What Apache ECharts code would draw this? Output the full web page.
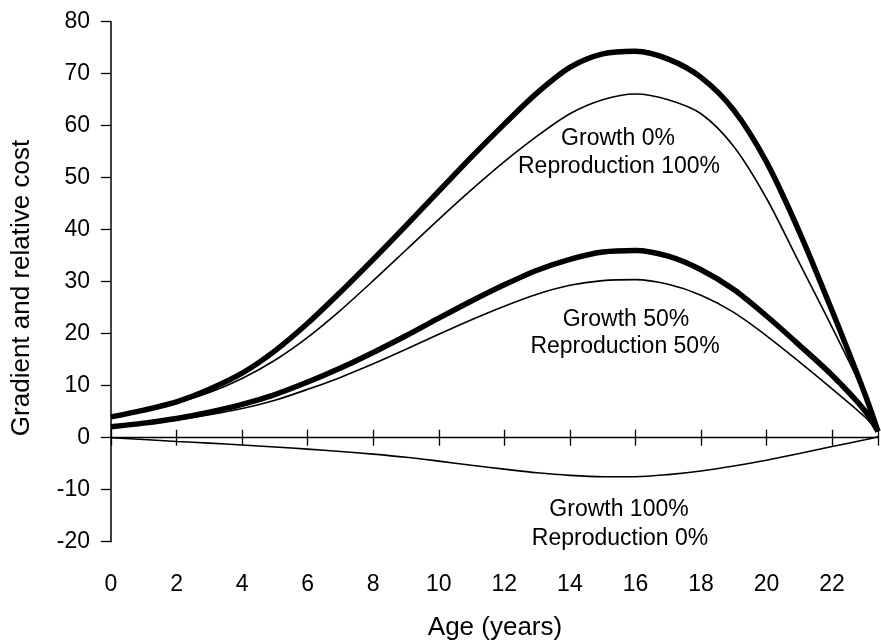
<!DOCTYPE html>
<html>
<head>
<meta charset="utf-8">
<script src="https://cdn.jsdelivr.net/npm/echarts@6/dist/echarts.min.js"></script>
<style>html,body{margin:0;padding:0;background:#fff}#c{width:881px;height:642px}</style>
</head>
<body>
<div id="c"></div>
<script>
// Age (years)
const ages = [0,1,2,3,4,5,6,7,8,9,10,11,12,13,14,15,16,17,18,19,20,21,22,23,23.4];
// Growth 0% / Reproduction 100%
const g0Thick = [4.0,5.3,6.9,9.3,12.4,16.7,22.0,28.0,34.3,40.8,47.4,54.0,60.3,66.3,71.2,73.8,74.3,72.8,69.3,63.0,53.0,39.6,24.4,8.4,1.2];
const g0Thin  = [4.0,5.2,6.7,8.7,11.4,14.9,19.3,24.5,30.2,36.1,42.0,47.7,53.1,58.0,62.3,65.0,66.1,65.0,62.3,56.0,46.0,33.6,21.2,8.2,1.2];
// Growth 50% / Reproduction 50%
const g50Thick = [2.1,2.8,3.7,4.9,6.4,8.3,10.7,13.4,16.4,19.6,23.0,26.3,29.4,32.2,34.3,35.7,36.0,34.9,32.3,28.5,23.4,17.8,12.0,5.2,1.2];
const g50Thin  = [2.0,2.6,3.4,4.4,5.6,7.2,9.3,11.6,14.2,17.0,19.9,22.7,25.3,27.6,29.3,30.2,30.4,29.5,27.4,24.1,19.6,14.6,9.4,4.0,1.2];
// Growth 100% / Reproduction 0%
const g100 = [0,-0.35,-0.72,-1.05,-1.4,-1.78,-2.2,-2.65,-3.15,-3.75,-4.5,-5.3,-6.05,-6.75,-7.25,-7.5,-7.5,-7.1,-6.4,-5.45,-4.35,-3.05,-1.7,-0.4,0.2];

const xTickStep = 2;
const yTickStep = 10;

const FONT = '"Liberation Sans", Arial, Helvetica, sans-serif';
const pair = arr => ages.map((a, i) => [a, arr[i]]);

const chart = echarts.init(document.getElementById('c'), null, {renderer: 'canvas'});

const baseX = {type: 'value', min: 0, max: 23.4, interval: xTickStep, splitLine: {show: false}};

function line(name, data, width) {
  return {
    name, type: 'line', data: pair(data), smooth: 0.3, symbol: 'none',
    xAxisIndex: 0, yAxisIndex: 0,
    lineStyle: {color: '#000', width: width}, z: width > 2 ? 3 : 4
  };
}

const txt = (x, y, text, size) => ({
  type: 'text', x, y,
  style: {text, font: size + 'px ' + FONT, fill: '#000', align: 'center', verticalAlign: 'middle'}
});

const option = {
  animation: false,
  backgroundColor: '#fff',
  grid: {left: 111, right: 2.5, top: 21.7, bottom: 100.3, containLabel: false},
  xAxis: [
    Object.assign({}, baseX, {
      position: 'bottom',
      axisLine: {show: false, onZero: false},
      axisTick: {show: false},
      axisLabel: {
        show: true, margin: 31, color: '#000', fontSize: 23, fontFamily: FONT,
        formatter: v => (v % 2 === 0 ? String(v) : '')
      }
    }),
    Object.assign({}, baseX, {
      position: 'bottom',
      axisLine: {show: true, onZero: true, onZeroAxisIndex: 0, lineStyle: {color: '#000', width: 1.3}},
      axisTick: {show: true, inside: false, length: 8, lineStyle: {color: '#000', width: 1.3}},
      axisLabel: {show: false}
    }),
    Object.assign({}, baseX, {
      position: 'top',
      axisLine: {show: false, onZero: true, onZeroAxisIndex: 1},
      axisTick: {show: true, inside: false, length: 8, lineStyle: {color: '#000', width: 1.3}},
      axisLabel: {show: false}
    })
  ],
  yAxis: [
    {
      type: 'value', min: -20, max: 80, interval: yTickStep, position: 'left',
      splitLine: {show: false},
      axisLine: {show: true, onZero: false, lineStyle: {color: '#000', width: 1.5}},
      axisTick: {show: true, inside: false, length: 10, lineStyle: {color: '#000', width: 1.3}},
      axisLabel: {show: true, margin: 21, color: '#000', fontSize: 23, fontFamily: FONT}
    },
    {
      type: 'value', min: -20, max: 80, interval: yTickStep, position: 'right',
      splitLine: {show: false},
      axisLine: {show: false, onZero: false},
      axisTick: {show: false},
      axisLabel: {show: false}
    }
  ],
  series: [
    line('Growth 0% gradient', g0Thick, 5.5),
    line('Growth 0% relative cost', g0Thin, 1.6),
    line('Growth 50% gradient', g50Thick, 5.5),
    line('Growth 50% relative cost', g50Thin, 1.6),
    line('Growth 100%', g100, 1.6)
  ],
  graphic: [
    Object.assign(txt(22, 288, 'Gradient and relative cost', 26), {rotation: Math.PI / 2}),
    txt(495, 628, 'Age (years)', 26),
    txt(618, 139, 'Growth 0%', 23),
    txt(619, 167, 'Reproduction 100%', 23),
    txt(626, 320, 'Growth 50%', 23),
    txt(625, 347, 'Reproduction 50%', 23),
    txt(619, 510, 'Growth 100%', 23),
    txt(620, 539, 'Reproduction 0%', 23)
  ]
};
chart.setOption(option);
</script>
</body>
</html>
